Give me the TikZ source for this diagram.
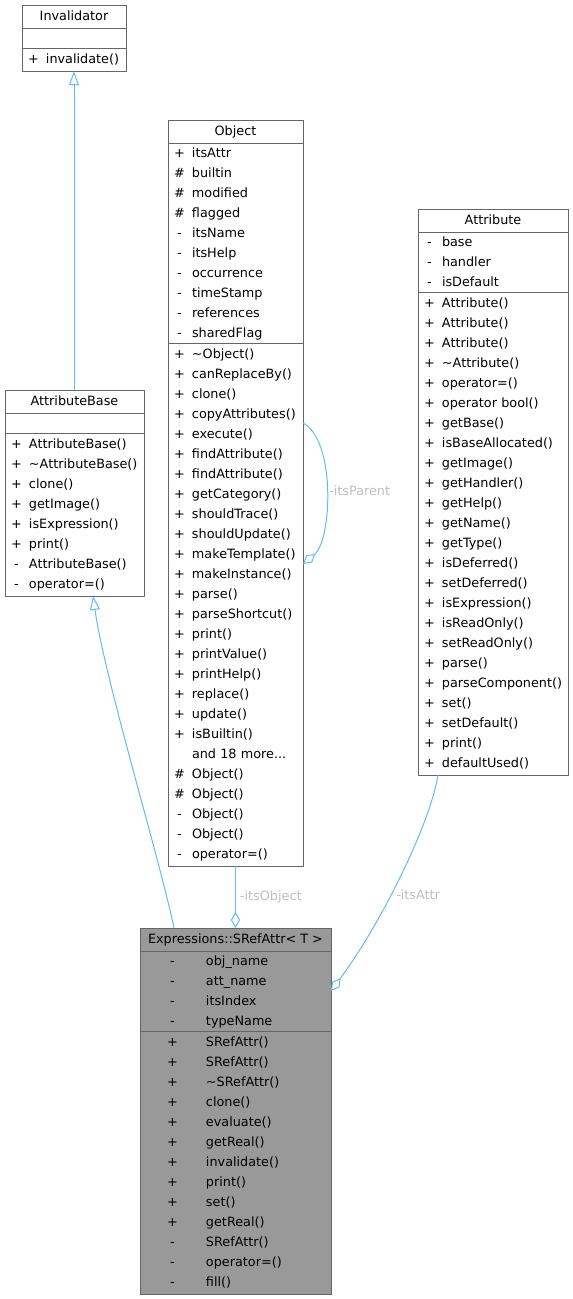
\documentclass[tikz,border=0pt]{standalone}
\usepackage{fontspec}
\setmainfont{DejaVu Sans}
\usetikzlibrary{positioning,arrows.meta,calc}
\definecolor{boxgray}{HTML}{666666}
\definecolor{boxfill}{HTML}{999999}
\definecolor{edgeblue}{HTML}{63B8FF}
\definecolor{labelgray}{HTML}{BEBEBE}
\newlength{\symw}
\newlength{\symgap}
\setlength{\symw}{11.25pt}
\setlength{\symgap}{3.75pt}
\newcommand{\mem}[2]{\makebox[\symw][c]{#1}\hspace{\symgap}#2\strut}
\tikzset{
  umlfont/.style={font=\fontsize{9.6}{15}\selectfont},
  classname/.style={draw=boxgray, line width=0.75pt, fill=white, umlfont, minimum width=#1, minimum height=17.25pt, inner sep=0pt, outer sep=0pt, anchor=north west, execute at begin node={\strut}},
  members/.style 2 args={draw=boxgray, line width=0.75pt, fill=white, umlfont, align=left, text width=#1, minimum height=#2, inner xsep=3pt, inner ysep=0pt, outer sep=0pt},
  current/.style={fill=boxfill, execute at begin node={\setlength{\symw}{42.75pt}}},
  inherit/.style={draw=edgeblue, line width=0.75pt, -{Triangle[open, length=10.5pt, width=7.5pt]}},
  aggr/.style={draw=edgeblue, line width=0.75pt, -{Diamond[open, length=12pt, width=7pt]}},
  edgelabel/.style={umlfont, text=labelgray, inner sep=0pt}
}
\begin{document}
\begin{tikzpicture}[x=0.75pt, y=-0.75pt]
\useasboundingbox (0,0) rectangle (573,1299);
\node[classname=78pt] (inv) at (22,5) {Invalidator};
\node[members={72pt}{15pt}, below=0pt of inv] (inv-a) {};
\node[members={72pt}{17.25pt}, below=0pt of inv-a] (inv-m) {\mem{+}{invalidate()}};

\node[classname=101.25pt] (obj) at (168,120) {Object};
\node[members={95.25pt}{150pt}, below=0pt of obj] (obj-a) {\mem{+}{itsAttr}\\ \mem{\#}{builtin}\\ \mem{\#}{modified}\\ \mem{\#}{flagged}\\ \mem{-}{itsName}\\ \mem{-}{itsHelp}\\ \mem{-}{occurrence}\\ \mem{-}{timeStamp}\\ \mem{-}{references}\\ \mem{-}{sharedFlag}};
\node[members={95.25pt}{392.25pt}, below=0pt of obj-a] (obj-m) {\mem{+}{\textasciitilde Object()}\\ \mem{+}{canReplaceBy()}\\ \mem{+}{clone()}\\ \mem{+}{copyAttributes()}\\ \mem{+}{execute()}\\ \mem{+}{findAttribute()}\\ \mem{+}{findAttribute()}\\ \mem{+}{getCategory()}\\ \mem{+}{shouldTrace()}\\ \mem{+}{shouldUpdate()}\\ \mem{+}{makeTemplate()}\\ \mem{+}{makeInstance()}\\ \mem{+}{parse()}\\ \mem{+}{parseShortcut()}\\ \mem{+}{print()}\\ \mem{+}{printValue()}\\ \mem{+}{printHelp()}\\ \mem{+}{replace()}\\ \mem{+}{update()}\\ \mem{+}{isBuiltin()}\\ \mem{}{and 18 more...}\\ \mem{\#}{Object()}\\ \mem{\#}{Object()}\\ \mem{-}{Object()}\\ \mem{-}{Object()}\\ \mem{-}{operator=()}};

\node[classname=112.5pt] (attr) at (418,209) {Attribute};
\node[members={106.5pt}{45pt}, below=0pt of attr] (attr-a) {\mem{-}{base}\\ \mem{-}{handler}\\ \mem{-}{isDefault}};
\node[members={106.5pt}{362.25pt}, below=0pt of attr-a] (attr-m) {\mem{+}{Attribute()}\\ \mem{+}{Attribute()}\\ \mem{+}{Attribute()}\\ \mem{+}{\textasciitilde Attribute()}\\ \mem{+}{operator=()}\\ \mem{+}{operator bool()}\\ \mem{+}{getBase()}\\ \mem{+}{isBaseAllocated()}\\ \mem{+}{getImage()}\\ \mem{+}{getHandler()}\\ \mem{+}{getHelp()}\\ \mem{+}{getName()}\\ \mem{+}{getType()}\\ \mem{+}{isDeferred()}\\ \mem{+}{setDeferred()}\\ \mem{+}{isExpression()}\\ \mem{+}{isReadOnly()}\\ \mem{+}{setReadOnly()}\\ \mem{+}{parse()}\\ \mem{+}{parseComponent()}\\ \mem{+}{set()}\\ \mem{+}{setDefault()}\\ \mem{+}{print()}\\ \mem{+}{defaultUsed()}};

\node[classname=104.25pt] (ab) at (5,390) {AttributeBase};
\node[members={98.25pt}{15pt}, below=0pt of ab] (ab-a) {};
\node[members={98.25pt}{122.25pt}, below=0pt of ab-a] (ab-m) {\mem{+}{AttributeBase()}\\ \mem{+}{\textasciitilde AttributeBase()}\\ \mem{+}{clone()}\\ \mem{+}{getImage()}\\ \mem{+}{isExpression()}\\ \mem{+}{print()}\\ \mem{-}{AttributeBase()}\\ \mem{-}{operator=()}};

\node[classname=143.25pt, fill=boxfill] (sra) at (140,928) {Expressions::SRefAttr< T >};
\node[members={137.25pt}{60pt}, current, below=0pt of sra] (sra-a) {\mem{-}{obj\_name}\\ \mem{-}{att\_name}\\ \mem{-}{itsIndex}\\ \mem{-}{typeName}};
\node[members={137.25pt}{197.25pt}, current, below=0pt of sra-a] (sra-m) {\mem{+}{SRefAttr()}\\ \mem{+}{SRefAttr()}\\ \mem{+}{\textasciitilde SRefAttr()}\\ \mem{+}{clone()}\\ \mem{+}{evaluate()}\\ \mem{+}{getReal()}\\ \mem{+}{invalidate()}\\ \mem{+}{print()}\\ \mem{+}{set()}\\ \mem{+}{getReal()}\\ \mem{-}{SRefAttr()}\\ \mem{-}{operator=()}\\ \mem{-}{fill()}};

\draw[inherit] (ab.north -| inv-m.south) -- (inv-m.south);
\draw[inherit] ($(sra.north west)+(34,0)$) .. controls (160,860) and (105,680) .. ($(ab-m.south west)+(88,0)$);
\draw[aggr] (obj-m.south) -- (sra.north) node[midway, right, edgelabel, xshift=3pt] (lbl-obj) {-itsObject};
\draw[aggr] ($(obj-m.north east)+(0,80)$) .. controls (336,440) and (332,540) .. ($(obj-m.north east)+(0,221)$);
\node[edgelabel, anchor=west] (lbl-parent) at (329,491) {-itsParent};
\draw[aggr] ($(attr-m.south west)+(20,0)$) .. controls (430,825) and (380,925) .. ($(sra-a.north east)+(0,40)$);
\node[edgelabel, anchor=west] (lbl-attr) at (396,895) {-itsAttr};
\end{tikzpicture}
\end{document}
